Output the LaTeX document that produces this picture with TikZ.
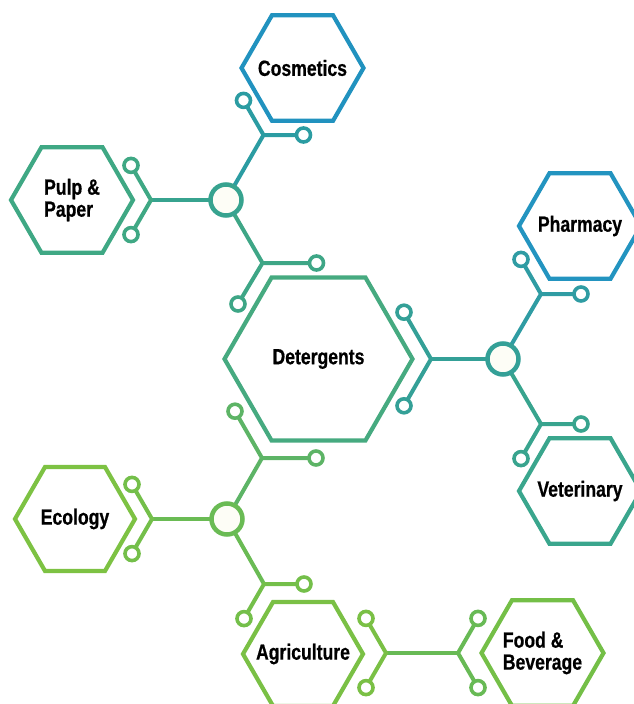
\documentclass[tikz,border=0pt]{standalone}
\usepackage{fontspec}
\newfontfamily\hexfont{Liberation Sans}[FakeStretch=0.8,BoldFeatures={FakeBold=0.6}]
\usetikzlibrary{shapes.geometric}
\usetikzlibrary{backgrounds}
\definecolor{cosm}{HTML}{2192BF}
\definecolor{pharm}{HTML}{2394C0}
\definecolor{pulp}{HTML}{3FA884}
\definecolor{deter}{HTML}{46AA80}
\definecolor{vet}{HTML}{3AA68D}
\definecolor{eco}{HTML}{7DC243}
\definecolor{agri}{HTML}{7AC045}
\definecolor{food}{HTML}{74BF47}
\definecolor{forkA}{HTML}{2B9CA2}
\definecolor{hubA}{HTML}{37A38F}
\definecolor{forkAd}{HTML}{3EA686}
\definecolor{hubB}{HTML}{34A097}
\definecolor{forkBu}{HTML}{2F9CA3}
\definecolor{forkBd}{HTML}{38A48E}
\definecolor{forkCu}{HTML}{5DB466}
\definecolor{hubC}{HTML}{6ABB54}
\definecolor{forkCl}{HTML}{74BF4A}
\definecolor{link}{HTML}{68BA55}
\definecolor{hubfill}{HTML}{FDFDF6}

\begin{document}
\begin{tikzpicture}[x=1pt,y=-1pt,
  hexa/.style={draw=#1,line width=4.2pt,shape=regular polygon,regular polygon sides=6,
    minimum size=122pt,inner xsep=-55pt,inner ysep=-10pt,outer sep=0pt,align=left,text=black,
    font=\hexfont\bfseries\fontsize{22}{22}\selectfont},
  hub/.style={draw=#1,circle,line width=4.5pt,fill=hubfill,minimum size=31pt,inner sep=0pt,outer sep=0pt},
  tip/.style={draw=#1,circle,line width=3.6pt,fill=white,minimum size=14pt,inner sep=0pt,outer sep=0pt},
  link/.style={draw=#1,line width=4pt,line cap=round,line join=miter}]
\useasboundingbox (0,0) rectangle (633,704);

% hexagons
\node[hexa=cosm] (cosmetics) at (302.5,68) {Cosmetics};
\node[hexa=pulp] (pulp) at (72,200) {Pulp \&\\Paper};
\node[hexa=deter,minimum size=188pt] (detergents) at (318.5,359) {Detergents};
\node[hexa=pharm] (pharmacy) at (580,226) {Pharmacy};
\node[hexa=vet] (veterinary) at (580,491) {Veterinary};
\node[hexa=eco,minimum size=120pt] (ecology) at (75,519) {Ecology};
\node[hexa=agri,minimum size=120pt] (agriculture) at (303,654) {Agriculture};
\node[hexa=food] (food) at (542.5,653) {Food \&\\Beverage};

% hubs
\node[hub=hubA] (hA) at (226,200) {};
\node[hub=hubB] (hB) at (503,359) {};
\node[hub=hubC] (hC) at (227,519) {};

% forks: junction + two tips
\coordinate (jAl) at (151,200);
\node[tip=pulp] (tAl1) at (131,165.4) {};
\node[tip=pulp] (tAl2) at (131,234.6) {};
\coordinate (jAu) at (263.5,135);
\node[tip=forkA] (tAu1) at (303.5,135) {};
\node[tip=forkA] (tAu2) at (243.5,100.4) {};
\coordinate (jAd) at (262.5,263);
\node[tip=forkAd] (tAd1) at (316.5,263) {};
\node[tip=forkAd] (tAd2) at (238,304) {};

\coordinate (jBl) at (431,359);
\node[tip=hubB] (tBl1) at (404,312.2) {};
\node[tip=hubB] (tBl2) at (404,405.8) {};
\coordinate (jBu) at (541,294);
\node[tip=forkBu] (tBu1) at (581,294) {};
\node[tip=forkBu] (tBu2) at (521,259.4) {};
\coordinate (jBd) at (541,424);
\node[tip=forkBd] (tBd1) at (581,424) {};
\node[tip=forkBd] (tBd2) at (521,458.6) {};

\coordinate (jCl) at (152,519);
\node[tip=forkCl] (tCl1) at (132,484.4) {};
\node[tip=forkCl] (tCl2) at (132,553.6) {};
\coordinate (jCu) at (262,458);
\node[tip=forkCu] (tCu1) at (316,458) {};
\node[tip=forkCu] (tCu2) at (235,411.2) {};
\coordinate (jCd) at (264,584);
\node[tip=forkCl] (tCd1) at (304,584) {};
\node[tip=forkCl] (tCd2) at (244,618.6) {};

\coordinate (jAg) at (386,653);
\node[tip=agri] (tAg1) at (366,618.4) {};
\node[tip=agri] (tAg2) at (366,687.6) {};
\coordinate (jFo) at (458,653);
\node[tip=link] (tFo1) at (478,618.4) {};
\node[tip=link] (tFo2) at (478,687.6) {};

\begin{pgfonlayer}{background}
% spokes
\draw[link=hubA] (hA) -- (jAl);
\draw[link=forkA] (hA) -- (jAu);
\draw[link=forkAd] (hA) -- (jAd);
\draw[link=hubB] (hB) -- (jBl);
\draw[link=forkBu] (hB) -- (jBu);
\draw[link=forkBd] (hB) -- (jBd);
\draw[link=hubC] (hC) -- (jCl);
\draw[link=forkCu] (hC) -- (jCu);
\draw[link=hubC] (hC) -- (jCd);
\draw[link=link] (jAg) -- (jFo);
% arms
\draw[link=pulp] (tAl1) -- (jAl) -- (tAl2);
\draw[link=forkA] (tAu1) -- (jAu) -- (tAu2);
\draw[link=forkAd] (tAd1) -- (jAd) -- (tAd2);
\draw[link=hubB] (tBl1) -- (jBl) -- (tBl2);
\draw[link=forkBu] (tBu1) -- (jBu) -- (tBu2);
\draw[link=forkBd] (tBd1) -- (jBd) -- (tBd2);
\draw[link=forkCl] (tCl1) -- (jCl) -- (tCl2);
\draw[link=forkCu] (tCu1) -- (jCu) -- (tCu2);
\draw[link=forkCl] (tCd1) -- (jCd) -- (tCd2);
\draw[link=agri] (tAg1) -- (jAg) -- (tAg2);
\draw[link=link] (tFo1) -- (jFo) -- (tFo2);
\end{pgfonlayer}
\end{tikzpicture}
\end{document}
